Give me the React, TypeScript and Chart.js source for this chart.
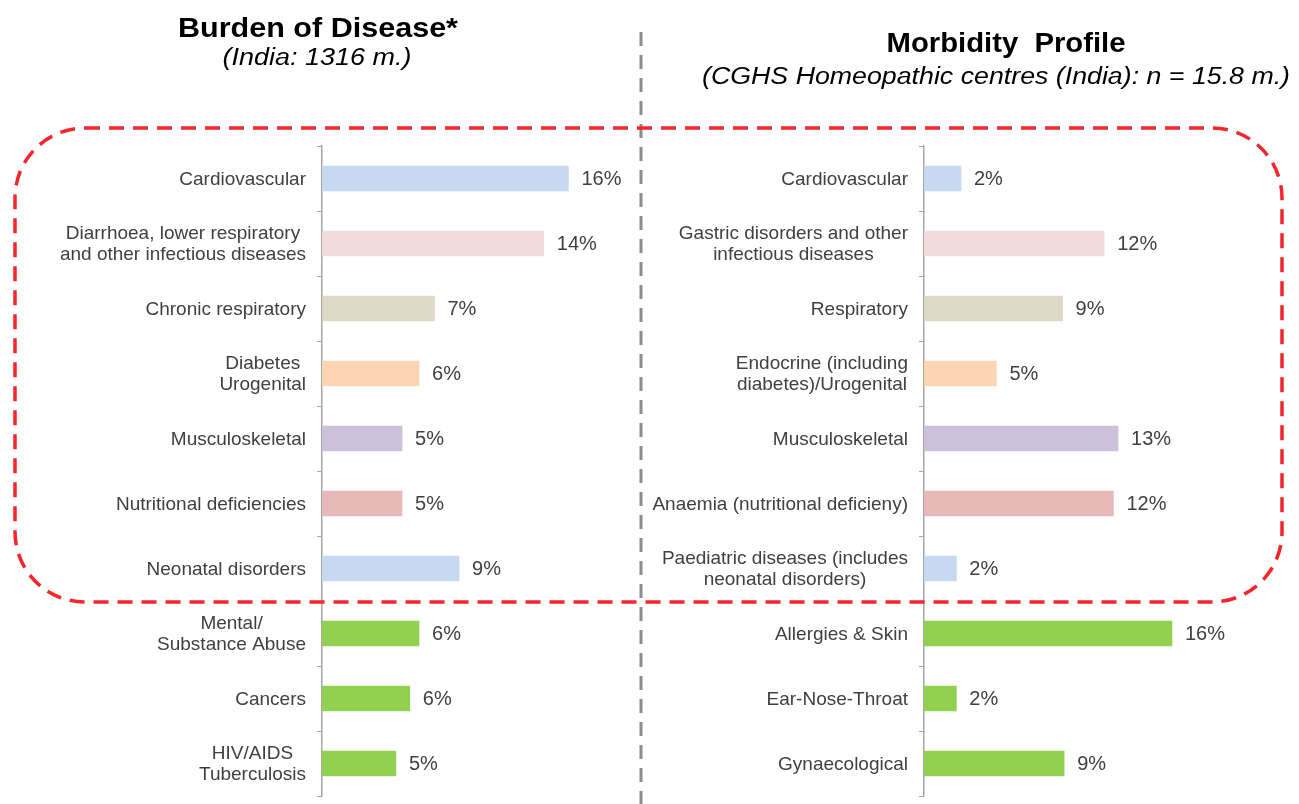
import React, { useEffect, useRef } from "react";
import { Chart, registerables } from "chart.js";

Chart.register(...registerables);

// ---------- Data ----------
const leftCategories: (string | string[])[] = [
  "Cardiovascular",
  ["Diarrhoea, lower respiratory", "and other infectious diseases"],
  "Chronic respiratory",
  ["Diabetes", "Urogenital"],
  "Musculoskeletal",
  "Nutritional deficiencies",
  "Neonatal disorders",
  ["Mental/", "Substance Abuse"],
  "Cancers",
  ["HIV/AIDS", "Tuberculosis"],
];
const leftValues = [16.0, 14.4, 7.3, 6.3, 5.2, 5.2, 8.9, 6.3, 5.7, 4.8];
const leftValueLabels = ["16%", "14%", "7%", "6%", "5%", "5%", "9%", "6%", "6%", "5%"];

const rightCategories: (string | string[])[] = [
  "Cardiovascular",
  ["Gastric disorders and other", "infectious diseases"],
  "Respiratory",
  ["Endocrine (including", "diabetes)/Urogenital"],
  "Musculoskeletal",
  "Anaemia (nutritional deficieny)",
  ["Paediatric diseases (includes", "neonatal disorders)"],
  "Allergies & Skin",
  "Ear-Nose-Throat",
  "Gynaecological",
];
const rightValues = [2.4, 11.7, 9.0, 4.7, 12.6, 12.3, 2.1, 16.1, 2.1, 9.1];
const rightValueLabels = ["2%", "12%", "9%", "5%", "13%", "12%", "2%", "16%", "2%", "9%"];

const barColors = [
  "#c6d9f1",
  "#f2dcdb",
  "#ddd9c4",
  "#fcd5b5",
  "#ccc1da",
  "#e6b9b8",
  "#c6d9f1",
  "#92d050",
  "#92d050",
  "#92d050",
];

const FONT = '"Liberation Sans", Arial, Helvetica, sans-serif';
const TEXT_COLOR = "#404040";

function makeLabelPlugin(cats: (string | string[])[], valueLabels: string[]) {
  return {
    id: "customLabels",
    afterDatasetsDraw(chart: any) {
      const ctx = chart.ctx as CanvasRenderingContext2D;
      const meta = chart.getDatasetMeta(0);
      ctx.save();
      ctx.fillStyle = TEXT_COLOR;
      ctx.textBaseline = "middle";
      // value labels
      ctx.font = `20px ${FONT}`;
      ctx.textAlign = "left";
      meta.data.forEach((bar: any, i: number) => {
        ctx.fillText(valueLabels[i], bar.x + 13, bar.y + 1);
      });
      // category labels: right-aligned block, lines centered within block
      ctx.font = `19px ${FONT}`;
      const ys = chart.scales.y;
      const right = chart.chartArea.left - 16;
      cats.forEach((c, i) => {
        const lines = Array.isArray(c) ? c : [c];
        const w = Math.max(...lines.map((l) => ctx.measureText(l).width));
        const cx = right - w / 2;
        const y = ys.getPixelForValue(i);
        ctx.textAlign = "center";
        lines.forEach((l, k) => {
          ctx.fillText(l, cx, y + 1 + (k - (lines.length - 1) / 2) * 21);
        });
      });
      ctx.restore();
    },
  };
}

type PanelProps = {
  cats: (string | string[])[];
  values: number[];
  valueLabels: string[];
  left: number;
  width: number;
  axisWidth: number;
  padRight: number;
};

function Panel({ cats, values, valueLabels, left, width, axisWidth, padRight }: PanelProps) {
  const ref = useRef<HTMLCanvasElement | null>(null);
  useEffect(() => {
    if (!ref.current) return;
    const chart = new Chart(ref.current, {
      type: "bar",
      data: {
        labels: cats.map((c) => (Array.isArray(c) ? c.join(" ") : c)),
        datasets: [
          {
            data: values,
            backgroundColor: barColors,
            borderWidth: 0,
            barThickness: 25,
          },
        ],
      },
      options: {
        indexAxis: "y",
        animation: false,
        responsive: false,
        maintainAspectRatio: false,
        layout: { padding: { top: 146, bottom: 8, left: 0, right: padRight } },
        plugins: { legend: { display: false }, tooltip: { enabled: false }, title: { display: false } },
        scales: {
          x: { display: false, min: 0, max: 20 },
          y: {
            type: "category",
            offset: true,
            grid: {
              display: true,
              drawOnChartArea: false,
              drawTicks: true,
              tickLength: 5,
              color: "#a6a6a6",
              offset: true,
            },
            border: { display: true, color: "#a6a6a6", width: 1.5 },
            ticks: { display: false },
            afterFit: (s: any) => {
              s.width = axisWidth;
            },
          },
        },
      },
      plugins: [makeLabelPlugin(cats, valueLabels)],
    } as any);
    return () => chart.destroy();
  }, []);
  return (
    <canvas
      ref={ref}
      width={width}
      height={804}
      style={{ position: "absolute", left, top: 0, width, height: 804 }}
    />
  );
}

export default function App() {
  return (
    <div
      style={{
        position: "absolute",
        left: 0,
        top: 0,
        width: 1299,
        height: 804,
        background: "#ffffff",
        overflow: "hidden",
      }}
    >
      <Panel
        cats={leftCategories}
        values={leftValues}
        valueLabels={leftValueLabels}
        left={0}
        width={640}
        axisWidth={322}
        padRight={10}
      />
      <Panel
        cats={rightCategories}
        values={rightValues}
        valueLabels={rightValueLabels}
        left={641}
        width={658}
        axisWidth={283}
        padRight={67}
      />
      <svg
        width={1299}
        height={804}
        style={{ position: "absolute", left: 0, top: 0, pointerEvents: "none" }}
      >
        <line x1={641} y1={32} x2={641} y2={804} stroke="#8c8c8c" strokeWidth={3} strokeDasharray="14 9" />
        <rect
          x={15}
          y={128}
          width={1267}
          height={474}
          rx={70}
          ry={70}
          fill="none"
          stroke="#f5262b"
          strokeWidth={3.5}
          strokeDasharray="15 9"
        />
        <text
          x={318}
          y={37}
          textAnchor="middle"
          fontFamily={FONT}
          fontWeight="bold"
          fontSize={27}
          fill="#000000"
          textLength={280}
          lengthAdjust="spacingAndGlyphs"
        >
          Burden of Disease*
        </text>
        <text
          x={317}
          y={65}
          textAnchor="middle"
          fontFamily={FONT}
          fontStyle="italic"
          fontSize={23}
          fill="#000000"
          textLength={189}
          lengthAdjust="spacingAndGlyphs"
        >
          (India: 1316 m.)
        </text>
        <text
          x={1006}
          y={52}
          textAnchor="middle"
          fontFamily={FONT}
          fontWeight="bold"
          fontSize={27}
          fill="#000000"
          textLength={239}
          lengthAdjust="spacingAndGlyphs"
          style={{ whiteSpace: "pre" }}
        >
          {"Morbidity  Profile"}
        </text>
        <text
          x={996}
          y={84}
          textAnchor="middle"
          fontFamily={FONT}
          fontStyle="italic"
          fontSize={23}
          fill="#000000"
          textLength={588}
          lengthAdjust="spacingAndGlyphs"
        >
          (CGHS Homeopathic centres (India): n = 15.8 m.)
        </text>
      </svg>
    </div>
  );
}
